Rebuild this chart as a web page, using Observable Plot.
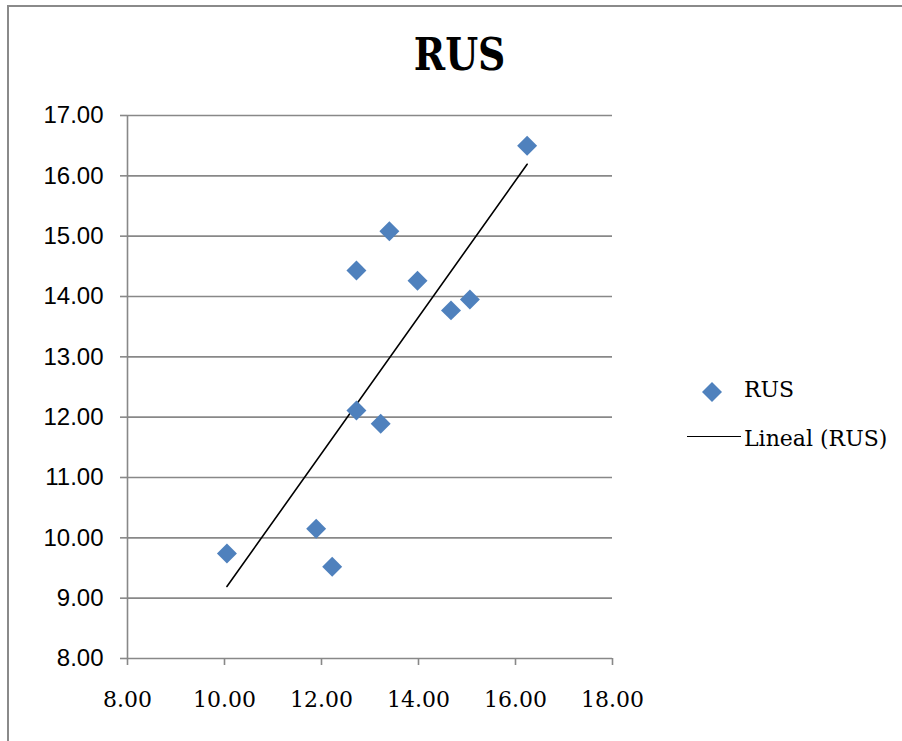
<!DOCTYPE html>
<html>
<head>
<meta charset="utf-8">
<script src="https://cdn.jsdelivr.net/npm/d3@7"></script>
<script src="https://cdn.jsdelivr.net/npm/@observablehq/plot@0.6"></script>
<style>
  html, body { margin: 0; padding: 0; background: #fff; }
  #chart { position: relative; width: 902px; height: 741px; overflow: hidden; background: #fff; }
  #frame { position: absolute; left: 7px; top: 5px; width: 1000px; height: 1000px;
           border-top: 2px solid #8a8a8a; border-left: 2px solid #8a8a8a; box-sizing: border-box; }
  #title { position: absolute; left: 0; width: 920px; top: 32px; text-align: center;
           font-family: "DejaVu Serif", serif; font-weight: bold; font-size: 45px; color: #000;
           line-height: 1; }
  #title span { display: inline-block; transform: scaleX(0.84); }
  .legend { position: absolute; font-family: "DejaVu Serif", serif; font-size: 22px; color: #000; }
  #plot { position: absolute; left: 0; top: 0; }
</style>
</head>
<body>
<div id="chart">
  <div id="frame"></div>
  <div id="plot"></div>
  <div id="title"><span>RUS</span></div>
  <div class="legend" style="left:700px; top:378px;">
    <svg width="24" height="24" style="vertical-align:middle"><path d="M12,2L22,12L12,22L2,12Z" fill="#4f81bd"/></svg>
  </div>
  <div class="legend" style="left:744px; top:377px;">RUS</div>
  <div class="legend" style="left:687px; top:436px; width:54px; height:0; border-top:1.5px solid #000;"></div>
  <div class="legend" style="left:744px; top:426px;">Lineal (RUS)</div>
</div>
<script>
// Paired observations for the RUS series (x, y)
const xValues = [10.05, 11.89, 12.22, 12.72, 12.72, 13.22, 13.40, 13.98, 14.67, 15.06, 16.24];
const yValues = [9.74, 10.15, 9.52, 12.11, 14.43, 11.89, 15.08, 14.26, 13.77, 13.95, 16.50];

// Axis ticks
const xTicks = [8, 10, 12, 14, 16, 18];
const yTicks = [8, 9, 10, 11, 12, 13, 14, 15, 16, 17];

const points = xValues.map((x, i) => ({x, y: yValues[i]}));

const fmt = d3.format(".2f");
const gridColor = "#888";

const chart = Plot.plot({
  width: 902,
  height: 741,
  marginLeft: 127,
  marginRight: 290,
  marginTop: 115,
  marginBottom: 83,
  style: {background: "transparent"},
  x: {domain: [8, 18]},
  y: {domain: [8, 17]},
  marks: [
    Plot.ruleY(yTicks, {x1: 8, x2: 18, stroke: gridColor, strokeWidth: 1.6}),
    Plot.ruleX([8], {y1: 8, y2: 17, stroke: gridColor, strokeWidth: 1.6}),
    Plot.axisY({ticks: yTicks, tickFormat: fmt, tickSize: 7, tickPadding: 17,
      stroke: gridColor, strokeWidth: 1.6, label: null,
      fontFamily: "Liberation Sans, Arial, sans-serif", fontSize: 24, fill: "#000"}),
    Plot.axisX({ticks: xTicks, tickFormat: fmt, tickSize: 7, tickPadding: 26,
      stroke: gridColor, strokeWidth: 1.6, label: null,
      fontFamily: "DejaVu Serif, serif", fontSize: 22, fill: "#000"}),
    Plot.linearRegressionY(points, {x: "x", y: "y", ci: 0, stroke: "#000", strokeWidth: 1.6}),
    Plot.dot(points, {x: "x", y: "y", symbol: "diamond2", r: 9, fill: "#4f81bd", stroke: "none"})
  ]
});
document.getElementById("plot").appendChild(chart);
</script>
</body>
</html>
